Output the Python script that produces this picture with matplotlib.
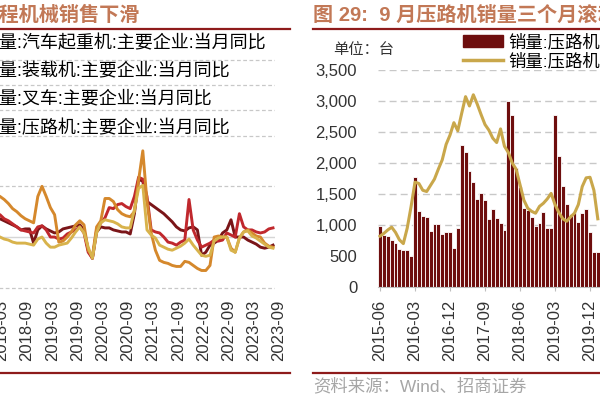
import numpy as np
import pandas as pd
import matplotlib
matplotlib.use('Agg')
import matplotlib.pyplot as plt
import matplotlib.transforms as mtransforms
from matplotlib.lines import Line2D
from matplotlib.patches import Patch

plt.rcParams['font.family'] = ['Liberation Sans', 'Noto Sans CJK SC', 'DejaVu Sans']

# ---- left chart data: monthly YoY (%), 2018-02 .. 2023-09
left_start, left_end = '2018-02', '2023-09'
crane = [22, 20, 18, 16, 14, 12, 10, 7, 8, 8,
         -6, 7, 11, 8, 6, 4, 5, 8, 9, 10,
         11, 12, 7, -13, -21, 5, 10, 9, 9, 7,
         6, 5, 5, 3, 23, 57, 55, 35, 32, 29,
         26, 23, 19, 15, 10, 7, 6, 9, 10, 7,
         -18, -15, -8, -6, -3, 4, 7, 17, 0, 0,
         0, -3, -5, -7, -10, -11, -10, -8]
loader = [25, 23, 22, 18, 16, 13, 10, 7, 6, 5,
          4, 10, 11, 7, 0, 0, -2, -1, 3, 5,
          7, 10, 4, -15, -21, 7, 14, 19, 29, 28,
          32, 33, 30, 28, 40, 59, 57, 40, 7, 5,
          4, 0, -5, -6, -8, -5, -3, 37, 7, -3,
          -10, -8, -6, -3, -4, -3, 4, 2, 0, 23,
          10, 7, 7, 5, 4, 5, 8, 9]
forklift = [43, 42, 40, 37, 33, 28, 25, 21, 18, 16,
            14, 40, 50, 40, 29, 22, -5, -4, 0, 5,
            12, 16, 12, -13, -19, 10, 16, 38, 38, 35,
            27, 23, 21, 20, 25, 56, 85, 35, 4, -13,
            -23, -25, -26, -28, -29, -29, -24, -25, -28, -31,
            -33, -33, -28, 0, 1, 0, 0, -11, -15, -1,
            5, 7, 4, 1, 0, -6, -9, -10]
roller_yoy = [4, 2, 0, -2, -3, -5, -6, -6, -6, -7,
              -8, -2, 0, -6, -10, -10, -8, -7, -6, -1,
              5, 10, 4, -10, -21, 4, 14, 17, 16, 15,
              13, 10, 9, 9, 27, 48, 51, 7, 2, -1,
              -8, -10, -12, -13, -11, -9, -6, -2, -8, -13,
              -18, -19, -18, -4, -1, 0, 0, -13, -15, -1,
              5, 6, 1, -1, -4, -7, -10, -11]
left_names = ['销量:汽车起重机:主要企业:当月同比', '销量:装载机:主要企业:当月同比',
              '销量:叉车:主要企业:当月同比', '销量:压路机:主要企业:当月同比']
left_colors = ['#7A1518', '#C0282D', '#D5882C', '#D8B34C']

# ---- right chart data: road roller sales (units), from 2015-06
right_start = '2015-06'
sales = [990, 840, 815, 760, 705, 610, 600, 595, 505, 1770,
         1230, 1145, 1125, 910, 1015, 1015, 855, 885, 890, 625,
         955, 2295, 2175, 1875, 1700, 1415, 1520, 1405, 1095, 1255,
         1105, 1040, 920, 3005, 2775, 1915, 1620, 1270, 1240, 1135,
         985, 1040, 1215, 945, 955, 2775, 2115, 1630, 1335, 1175,
         1190, 1055, 1200, 1255, 890, 570, 570]
roll3 = [820, 865, 920, 965, 880, 760, 700, 950, 1300, 1690,
         1670, 1560, 1540, 1640, 1740, 1900, 2050, 2300, 2450, 2650,
         2520, 2800, 3070, 2920, 3100, 2950, 2780, 2620, 2530, 2400,
         2330, 2550, 2270, 2170, 2000, 1900, 1650, 1400, 1270, 1220,
         1190, 1300, 1350, 1420, 1510, 1330, 1200, 1100, 1060, 1130,
         1190, 1330, 1620, 1760, 1770, 1560, 1100]
right_names = ['销量:压路机:主要企业:当月值', '销量:压路机:三个月滚动均值']

W, H = 600, 400
def fx(px):
    return px / W
def fy(py):
    return 1 - py / H

title_color = '#C27856'
rule_color = '#8E1B1B'
grid_color = '#C8C8C8'

fig = plt.figure(figsize=(6, 4), dpi=100)

# ================= left chart (cut off on the left)
left_months = pd.period_range(left_start, left_end, freq='M')
m = np.arange(len(left_months))
ax1 = fig.add_axes([fx(-20), fy(292.8), 295 / W, (292.8 - 34.2) / H])
n = len(left_months) - 1
ax1.set_xlim(n + (-20 - 273) / 4.2, n + (275 - 273) / 4.2)
ax1.set_ylim(-55, 200)
for v in [-50, 50, 100, 125, 150, 175]:
    ax1.axhline(v, color=grid_color, lw=0.9, ls=(0, (3, 2)), zorder=0)
ax1.axhline(0, color='#D6D6D6', lw=1, zorder=0)
for vals, name, c in zip([crane, loader, forklift, roller_yoy], left_names, left_colors):
    ax1.plot(m, vals, color=c, lw=2.1, label=name)

lab = [str(p) for p in left_months]
tick_idx = [k for k in m if left_months[k].month in (3, 9)]
ax1.set_xticks(tick_idx)
ax1.set_xticklabels([lab[k] for k in tick_idx], rotation=90, fontsize=12, color='#333333')
ax1.tick_params(axis='x', length=0, pad=5)
shift = mtransforms.ScaledTranslation(6 / 100, 0, fig.dpi_scale_trans)
for t in ax1.get_xticklabels():
    t.set_transform(t.get_transform() + shift)
ax1.set_yticks([])
for s in ax1.spines.values():
    s.set_visible(False)
ax1.legend(loc='upper left', bbox_to_anchor=(fx(-19 - 2.8 * 18), fy(35)),
           bbox_transform=fig.transFigure, frameon=False, fontsize=13,
           handlelength=2, handletextpad=0.8, labelspacing=0.62,
           borderpad=0, borderaxespad=0)

# ================= right chart (cut off on the right)
right_months = pd.period_range(right_start, periods=len(sales), freq='M')
i = np.arange(len(sales))
ax2 = fig.add_axes([fx(378.05), fy(287), (615.3 - 378.05) / W, (287 - 70) / H])
ax2.set_xlim(-0.5, 60.5)
ax2.set_ylim(0, 3500)
ax2.set_axisbelow(True)
ax2.yaxis.grid(True, color=grid_color, lw=1, ls=(0, (5, 3)))
ax2.bar(i, sales, width=1.0, color='#6E0E0E', edgecolor='white', linewidth=0.6)
ax2.plot(i, roll3, color='#C9A74B', lw=2.2)
ax2.set_yticks(np.arange(0, 3501, 500))
ax2.set_yticklabels([f'{v:,}' for v in range(0, 3501, 500)], fontsize=12, color='#333333')
ax2.tick_params(axis='y', length=0, pad=15)
rt = list(range(0, len(sales), 9))
ax2.set_xticks(rt)
ax2.set_xticklabels([str(right_months[k]) for k in rt], rotation=90, fontsize=12, color='#333333')
ax2.tick_params(axis='x', length=3, color='#BFBFBF', pad=6)
for s in ['top', 'right', 'left']:
    ax2.spines[s].set_visible(False)
ax2.spines['bottom'].set_color('#BFBFBF')
handles = [Patch(color='#6E0E0E'), Line2D([], [], color='#C9A74B', lw=2.5)]
ax2.legend(handles, right_names, loc='upper left', bbox_to_anchor=(fx(463), fy(33)),
           bbox_transform=fig.transFigure, frameon=False, fontsize=12.5,
           handlelength=2.3, handletextpad=0.3, labelspacing=0.12,
           borderpad=0, borderaxespad=0)

# ================= page furniture
fig.text(fx(139), fy(15), '图 28：9 月工程机械销售下滑', ha='right', va='center',
         fontsize=14.5, color=title_color, fontweight='bold')
fig.text(fx(313), fy(15), '图 29:  9 月压路机销量三个月滚动', ha='left', va='center',
         fontsize=14.5, color=title_color, fontweight='bold')
fig.text(fx(333), fy(50), '单位：台', ha='left', va='center', fontsize=11, color='#333333')
fig.text(fx(313), fy(386), '资料来源：Wind、招商证券', ha='left', va='center',
         fontsize=12.5, color='#A6A6A6')
for x0, x1 in [(0, 290), (313, 600)]:
    for yy in (28.5, 372.5):
        fig.add_artist(Line2D([fx(x0), fx(x1)], [fy(yy), fy(yy)],
                              transform=fig.transFigure, color=rule_color, lw=1.6))

fig.savefig('out.png', dpi=100)
